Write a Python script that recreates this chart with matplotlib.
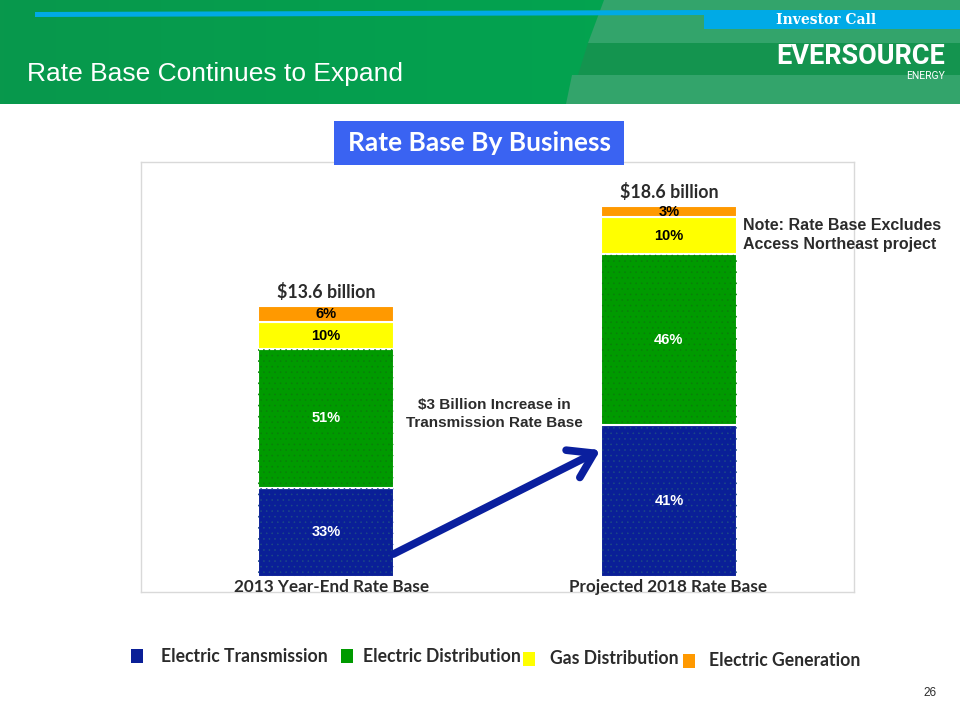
import matplotlib
matplotlib.use("Agg")
import matplotlib.pyplot as plt
from matplotlib.patches import Rectangle, Polygon
import numpy as np

# 数据
years = ["2013 Year-End Rate Base", "Projected 2018 Rate Base"]
totals = [13.6, 18.6]
total_labels = ["$13.6 billion", "$18.6 billion"]
segments = ["Electric Transmission", "Electric Distribution", "Gas Distribution", "Electric Generation"]
shares_2013 = [33, 51, 10, 6]
shares_2018 = [41, 46, 10, 3]
colors = ["#0a1f97", "#009a00", "#ffff00", "#ff9900"]
label_colors = ["white", "white", "black", "black"]
dot_colors = ["#1d4a86", "#0a7f0a", None, None]

W, H = 960, 720
TXT = "#2b2b2b"
ARIAL = ["Liberation Sans", "DejaVu Sans"]
CALIBRI = ["Lato", "DejaVu Sans"]

plt.rcParams["hatch.linewidth"] = 0.4


def px(x, y):
    # 像素坐标 -> figure 坐标
    return x / W, 1 - y / H


fig = plt.figure(figsize=(9.6, 7.2), dpi=100)
fig.patch.set_facecolor("white")

# 顶部横幅
hdr = fig.add_axes([0, 1 - 104 / H, 1, 104 / H])
hdr.set_xlim(0, W)
hdr.set_ylim(104, 0)
hdr.axis("off")
grad = np.linspace(0, 1, 256)
c0 = np.array([8, 152, 76]) / 255
c1 = np.array([0, 170, 82]) / 255
img = (c0[None, :] * (1 - grad[:, None]) + c1[None, :] * grad[:, None])[None, :, :]
hdr.imshow(img, extent=[0, W, 104, 0], aspect="auto")
hdr.add_patch(Polygon([[604, 0], [W, 0], [W, 43], [588, 43]], closed=True, facecolor="#33a46b", edgecolor="none"))
hdr.add_patch(Polygon([[588, 43], [W, 43], [W, 75], [578, 75]], closed=True, facecolor="#14944f", edgecolor="none"))
hdr.add_patch(Polygon([[572, 75], [W, 75], [W, 104], [566, 104]], closed=True, facecolor="#33a46b", edgecolor="none"))
hdr.add_patch(Polygon([[35, 12], [704, 10], [704, 15], [35, 17]], closed=True, facecolor="#00aae6", edgecolor="none"))
hdr.add_patch(Rectangle((704, 10), 256, 19, facecolor="#00aae6", edgecolor="none"))
hdr.text(826, 20, "Investor Call", color="white", fontsize=10, fontweight="bold",
         family=["DejaVu Serif"], ha="center", va="center")
hdr.text(27, 74, "Rate Base Continues to Expand", color="white", fontsize=19,
         family=ARIAL, ha="left", va="center")
hdr.text(945, 56, "EVERSOURCE", color="white", fontsize=19.5, fontweight="bold",
         family=["Roboto", "DejaVu Sans"], ha="right", va="center")
hdr.text(945, 76, "ENERGY", color="white", fontsize=7.5,
         family=["Roboto", "DejaVu Sans"], ha="right", va="center")

# 主图
ax = fig.add_axes([141 / W, (H - 592) / H, 713 / W, 430 / H])
ax.set_xlim(-0.54, 1.54)
ax.set_ylim(-0.75, 20.82)
ax.set_xticks([])
ax.set_yticks([])
for s in ax.spines.values():
    s.set_color("#d9d9d9")
    s.set_linewidth(1)

x = np.arange(len(years))
shares = np.array([shares_2013, shares_2018]).T
values = shares * np.array(totals)[None, :] / 100
bottom = np.zeros(len(years))
for i, seg in enumerate(segments):
    ax.bar(x, values[i], 0.397, bottom=bottom, color=colors[i], edgecolor="white", linewidth=1.5, zorder=2)
    if dot_colors[i]:
        ax.bar(x, values[i], 0.397, bottom=bottom, facecolor="none", edgecolor=dot_colors[i],
               linewidth=0, hatch="...", zorder=3)
    for j in range(len(years)):
        ax.text(x[j], bottom[j] + values[i][j] / 2, f"{shares[i][j]}%", ha="center", va="center",
                color=label_colors[i], fontsize=10.5, fontweight="bold", family=ARIAL, zorder=4)
    bottom = bottom + values[i]

for j in range(len(years)):
    ax.text(x[j], totals[j] + 0.25, total_labels[j], ha="center", va="bottom", color=TXT,
            fontsize=12.8, fontweight="bold", family=CALIBRI)
    fx, fy = px([332, 668][j], 587)
    fig.text(fx, fy, years[j], ha="center", va="center", color=TXT, fontsize=12.3,
             fontweight="bold", family=CALIBRI, zorder=5)

# 箭头
ax.annotate("", xy=(0.80, 6.37), xytext=(0.196, 1.15),
            arrowprops=dict(arrowstyle="->, head_length=1.7, head_width=1.1", lw=5.5,
                            color="#0a1f9e", shrinkA=0, shrinkB=0, capstyle="round"), zorder=5)
ax.text(0.49, 8.2, "$3 Billion Increase in\nTransmission Rate Base", ha="center", va="center",
        color=TXT, fontsize=11, fontweight="bold", family=ARIAL, linespacing=1.35)

# 注释
fx, fy = px(743, 235)
fig.text(fx, fy, "Note: Rate Base Excludes\nAccess Northeast project", ha="left", va="center",
         color=TXT, fontsize=11.5, fontweight="bold", family=ARIAL, linespacing=1.3)

# 标题框
bx, by = px(334, 165)
fig.patches.append(Rectangle((bx, by), 290 / W, 44 / H, transform=fig.transFigure,
                             facecolor="#3a63f2", edgecolor="none", zorder=2))
fx, fy = px(479, 143)
fig.text(fx, fy, "Rate Base By Business", ha="center", va="center", color="white",
         fontsize=19, fontweight="bold", family=CALIBRI, zorder=3)

# 图例
leg_pos = [(131, 656, 161), (341, 656, 363), (523, 659, 550), (683, 661, 709)]
for i, seg in enumerate(segments):
    sx, sy, tx = leg_pos[i]
    rx, ry = px(sx, sy + 7)
    fig.patches.append(Rectangle((rx, ry), 12 / W, 14 / H, transform=fig.transFigure,
                                 facecolor=colors[i], edgecolor="none"))
    fx, fy = px(tx, sy)
    fig.text(fx, fy, seg, ha="left", va="center", color=TXT, fontsize=12.7,
             fontweight="bold", family=CALIBRI)

fx, fy = px(930, 693)
fig.text(fx, fy, "26", ha="center", va="center", color=TXT, fontsize=8.5, family=ARIAL)

fig.savefig("out.png", dpi=100)
